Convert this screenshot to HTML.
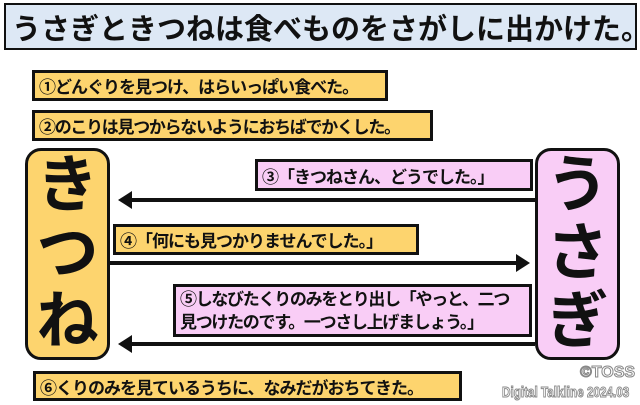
<!DOCTYPE html>
<html><head><meta charset="utf-8"><style>
*{margin:0;padding:0;box-sizing:border-box}
body{width:640px;height:405px;background:#fff;position:relative;overflow:hidden;font-family:"Liberation Sans","Noto Sans CJK JP",sans-serif;font-weight:bold;color:#111}
.b{position:absolute;border:3px solid #111;white-space:nowrap;display:flex;align-items:center;padding-left:4px;font-size:17px;letter-spacing:-1px;overflow:hidden}
.o{background:#fdd46e}.p{background:#f9cdf6}
.big{position:absolute;border:3px solid #111;border-radius:16px;display:flex;flex-direction:column;align-items:center;justify-content:center;font-size:62px;line-height:68px}
.wm{position:absolute;color:#fff;-webkit-text-stroke:1px #888;font-family:"Liberation Sans",sans-serif;font-weight:bold;white-space:nowrap}
</style></head><body>
<div class="b" style="left:4px;top:3px;width:633px;height:47px;background:#dde8f5;font-size:29px;padding-left:6px;letter-spacing:0;border-width:2px">うさぎときつねは食べものをさがしに出かけた。</div>
<div class="b o" style="left:32px;top:70px;width:356px;height:31px">①どんぐりを見つけ、はらいっぱい食べた。</div>
<div class="b o" style="left:32px;top:110px;width:401px;height:31px;letter-spacing:-1.3px">②のこりは見つからないようにおちばでかくした。</div>
<div class="big o" style="left:25px;top:148px;width:85px;height:212px"><div>き</div><div>つ</div><div>ね</div></div>
<div class="big p" style="left:535px;top:148px;width:85px;height:212px"><div>う</div><div>さ</div><div>ぎ</div></div>
<div class="b p" style="left:255px;top:159px;width:278px;height:32px">③「きつねさん、どうでした。」</div>
<div class="b o" style="left:113px;top:224px;width:306px;height:31px">④「何にも見つかりませんでした。」</div>
<div class="b p" style="left:173px;top:284px;width:359px;height:53px;flex-direction:column;align-items:flex-start;justify-content:center;line-height:23px;letter-spacing:-1.3px"><div>⑤しなびたくりのみをとり出し「やっと、二つ</div><div>見つけたのです。一つさし上げましょう。」</div></div>
<div class="b o" style="left:33px;top:371px;width:429px;height:30px">⑥くりのみを見ているうちに、なみだがおちてきた。</div>
<svg width="640" height="405" style="position:absolute;left:0;top:0">
<g stroke="#111" stroke-width="4" fill="#111">
<line x1="535" y1="200" x2="128" y2="200"/><polygon points="118,200 132,191 132,209" stroke="none"/>
<line x1="110" y1="263" x2="520" y2="263"/><polygon points="530,263 516,254 516,272" stroke="none"/>
<line x1="535" y1="344" x2="128" y2="344"/><polygon points="118,344 132,335 132,353" stroke="none"/>
</g></svg>
<div class="wm" style="left:580px;top:364px;font-size:16px">©TOSS</div>
<div class="wm" style="left:502px;top:384px;font-size:15px;transform:scaleX(0.78);transform-origin:left">Digital Talkline 2024.03</div>
</body></html>
